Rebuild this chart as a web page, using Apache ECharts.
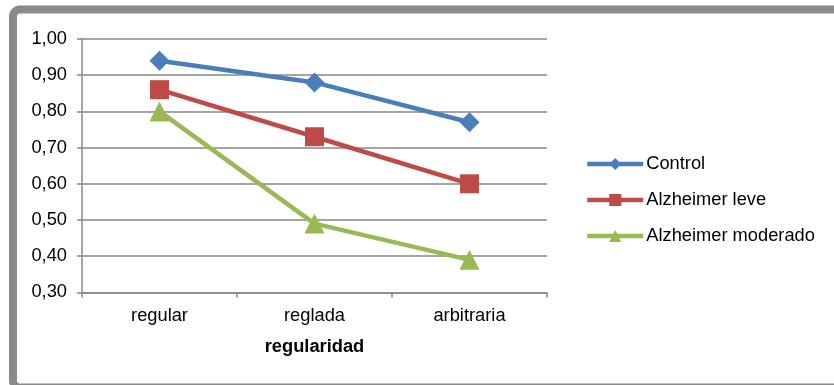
<!DOCTYPE html>
<html>
<head>
<meta charset="utf-8">
<script src="https://cdn.jsdelivr.net/npm/echarts@6/dist/echarts.min.js"></script>
<style>
  html, body { margin: 0; padding: 0; background: #ffffff; }
  #chart { width: 834px; height: 385px; }
</style>
</head>
<body>
<div id="chart"></div>
<script>
// Categories on the x axis
const categories = ['regular', 'reglada', 'arbitraria'];

// Mean scores per group
const control = [0.94, 0.88, 0.77];
const alzheimerLeve = [0.86, 0.73, 0.60];
const alzheimerModerado = [0.80, 0.49, 0.39];

const seriesNames = ['Control', 'Alzheimer leve', 'Alzheimer moderado'];
const seriesColors = ['#4A7EBB', '#BE4B48', '#98B954'];

const yMin = 0.3, yMax = 1.0, yStep = 0.1;

const font = 'Liberation Sans, Arial, sans-serif';
const fontSize = 18.3;
const gray = '#878787';

function lineSeries(name, data, color, symbol, size) {
  return {
    name: name,
    type: 'line',
    data: data,
    symbol: symbol,
    symbolSize: size,
    lineStyle: { color: color, width: 4.5 },
    itemStyle: { color: color },
    emphasis: { disabled: true },
    animation: false
  };
}

const chart = echarts.init(document.getElementById('chart'));
chart.setOption({
  backgroundColor: '#ffffff',
  animation: false,
  graphic: [{
    type: 'rect',
    shape: { x: 13, y: 9.5, width: 900, height: 378, r: 7 },
    style: { fill: 'none', stroke: '#8a8a8a', lineWidth: 8 },
    silent: true,
    z: 100
  }],
  grid: { left: 82, right: 287, top: 39, bottom: 92.6, containLabel: false },
  legend: {
    orient: 'vertical',
    left: 585,
    top: 155,
    padding: 0,
    itemWidth: 56,
    itemHeight: 15,
    itemGap: 18,
    lineStyle: { width: 4.5 },
    textStyle: { fontFamily: font, fontSize: fontSize, lineHeight: 18, color: '#000000', padding: [0, 0, 0, -2] },
    data: seriesNames
  },
  xAxis: {
    type: 'category',
    data: categories,
    boundaryGap: true,
    name: 'regularidad',
    nameLocation: 'middle',
    nameGap: 46,
    nameTextStyle: { fontFamily: font, fontSize: fontSize, fontWeight: 'bold', color: '#000000' },
    axisLine: { lineStyle: { color: gray, width: 1.5 } },
    axisTick: { show: true, length: 5, alignWithLabel: false, lineStyle: { color: gray, width: 1.5 } },
    axisLabel: { fontFamily: font, fontSize: fontSize, color: '#000000', margin: 15 },
    splitLine: { show: false }
  },
  yAxis: {
    type: 'value',
    min: yMin,
    max: yMax,
    interval: yStep,
    axisLine: { show: true, lineStyle: { color: gray, width: 1.5 } },
    axisTick: { show: true, length: 5, lineStyle: { color: gray, width: 1.5 } },
    axisLabel: {
      fontFamily: font, fontSize: fontSize, color: '#000000', margin: 15,
      formatter: v => v.toFixed(2).replace('.', ',')
    },
    splitLine: { show: true, lineStyle: { color: gray, width: 1.5 } }
  },
  series: [
    lineSeries(seriesNames[0], control, seriesColors[0], 'diamond', 20),
    lineSeries(seriesNames[1], alzheimerLeve, seriesColors[1], 'rect', 19),
    lineSeries(seriesNames[2], alzheimerModerado, seriesColors[2], 'triangle', 20)
  ]
});
</script>
</body>
</html>
